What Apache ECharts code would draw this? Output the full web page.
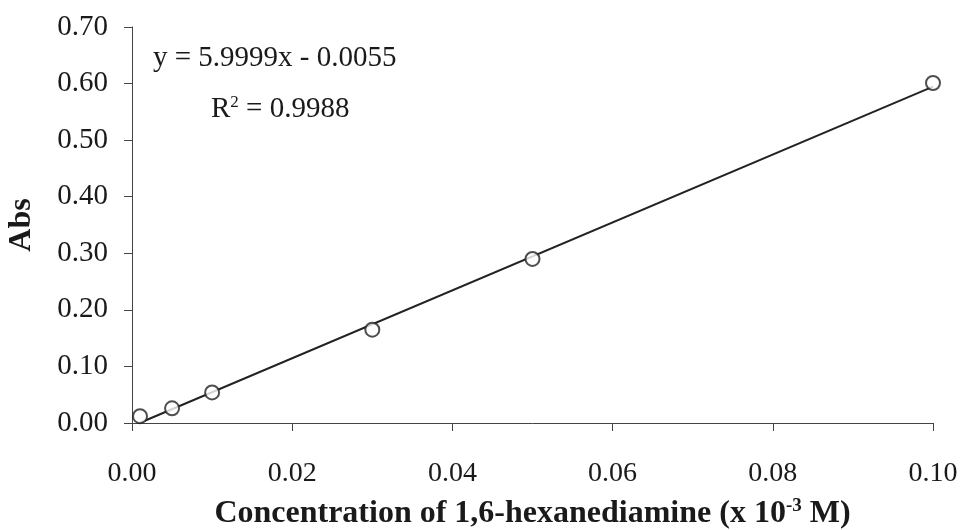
<!DOCTYPE html>
<html><head><meta charset="utf-8">
<script src="https://cdn.jsdelivr.net/npm/echarts@6/dist/echarts.min.js"></script>
<style>html,body{margin:0;padding:0;background:#fff}#c{width:965px;height:530px}</style>
</head><body><div id="c"></div>
<script>
const concentrations = [0.001, 0.005, 0.010, 0.030, 0.050, 0.100];
const absorbances = [0.012, 0.026, 0.054, 0.165, 0.290, 0.601];
const trendX = [0.001, 0.100];
const trendY = [0.0005, 0.5945];
const equationText = 'y = 5.9999x - 0.0055';
const r2Text = '0.9988';
const xTicks = [0, 0.02, 0.04, 0.06, 0.08, 0.10];
const yTicks = [0, 0.1, 0.2, 0.3, 0.4, 0.5, 0.6, 0.7];

const font = '"Liberation Serif", "Times New Roman", serif';
const ink = '#1a1a1a';
const chart = echarts.init(document.getElementById('c'));
chart.setOption({
  backgroundColor: '#fff',
  animation: false,
  grid: {left: 132, right: 32, top: 27, bottom: 107, containLabel: false, outerBoundsMode: 'none'},
  xAxis: {
    type: 'value', min: xTicks[0], max: xTicks[xTicks.length-1], interval: 0.02,
    splitLine: {show: false},
    axisLine: {lineStyle: {color: '#444', width: 1}},
    axisTick: {inside: false, length: 8, lineStyle: {color: '#444'}},
    axisLabel: {margin: 37, color: ink, fontFamily: font, fontSize: 28, formatter: v => v.toFixed(2)},
    name: '{b|Concentration of 1,6-hexanediamine (x 10}{sup|-3}{b| M)}',
    nameLocation: 'middle', nameGap: 74,
    nameTextStyle: {
      rich: {
        b: {fontFamily: font, fontWeight: 'bold', fontSize: 32, color: ink},
        sup: {fontFamily: font, fontWeight: 'bold', fontSize: 19, color: ink, verticalAlign: 'top', padding: [0,0,14,0]}
      }
    }
  },
  yAxis: {
    type: 'value', min: yTicks[0], max: yTicks[yTicks.length-1], interval: 0.1,
    splitLine: {show: false},
    axisLine: {show: true, lineStyle: {color: '#444', width: 1}},
    axisTick: {show: true, length: 8, lineStyle: {color: '#444'}},
    axisLabel: {margin: 24, color: ink, fontFamily: font, fontSize: 29, formatter: v => v.toFixed(2)},
    name: 'Abs', nameLocation: 'middle', nameGap: 94,
    nameTextStyle: {fontFamily: font, fontWeight: 'bold', fontSize: 32, color: ink}
  },
  series: [
    {
      type: 'line', data: trendX.map((x, i) => [x, trendY[i]]),
      showSymbol: false, symbol: 'none', z: 2,
      lineStyle: {color: '#222', width: 2}
    },
    {
      type: 'scatter', data: concentrations.map((x, i) => [x, absorbances[i]]),
      symbol: 'circle', symbolSize: 14, z: 3,
      itemStyle: {color: '#fff', borderColor: '#222', borderWidth: 2}
    }
  ],
  graphic: [
    {type: 'text', left: 153, top: 44, style: {text: equationText, font: '29px ' + font, fill: ink}},
    {type: 'text', left: 211, top: 94, style: {
      text: '{r|R}{s|2}{r| = ' + r2Text + '}',
      rich: {
        r: {fontFamily: font, fontSize: 29, fill: ink, color: ink},
        s: {fontFamily: font, fontSize: 17, fill: ink, color: ink, verticalAlign: 'top', padding: [0,0,13,0]}
      }
    }}
  ]
});
</script></body></html>
